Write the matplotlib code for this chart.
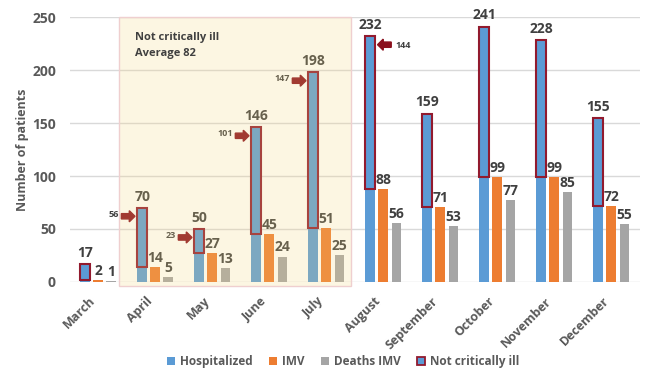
import matplotlib.pyplot as plt
import numpy as np
from matplotlib.patches import Rectangle, Patch

plt.rcParams["font.family"] = ["Open Sans", "DejaVu Sans"]

months = ["March", "April", "May", "June", "July",
          "August", "September", "October", "November", "December"]
hospitalized = [17, 70, 50, 146, 198, 232, 159, 241, 228, 155]
imv = [2, 14, 27, 45, 51, 88, 71, 99, 99, 72]
deaths_imv = [1, 5, 13, 24, 25, 56, 53, 77, 85, 55]
# months with an arrow pointing at the "not critically ill" box
arrow_right = [1, 2, 3, 4]
arrow_left = [5]
shaded_months = [1, 2, 3, 4]

BLUE = "#5B9BD5"
ORANGE = "#ED7D31"
GRAY = "#A5A5A5"
RED_EDGE = "#921A2E"
ARROW = "#8A0F1C"
TXT = "#404040"

x = np.arange(len(months))
not_crit = np.array(hospitalized) - np.array(imv)
avg_not_crit = np.mean(not_crit[shaded_months])

fig = plt.figure(figsize=(6.47, 3.81), dpi=100)
ax = fig.add_axes([0.108, 0.26, 0.881, 0.695])

w = 0.175
off = 0.23
ax.bar(x - off, hospitalized, w, color=BLUE, zorder=2)
ax.bar(x - off, not_crit, w, bottom=imv, color=BLUE, edgecolor=RED_EDGE,
       linewidth=1.5, zorder=3)
ax.bar(x, imv, w, color=ORANGE, zorder=2)
ax.bar(x + off, deaths_imv, w, color=GRAY, zorder=2)

lab = dict(ha="center", va="bottom", fontsize=10, fontweight="bold", color=TXT)
for i in x:
    ax.text(i - off, hospitalized[i] + 4, str(hospitalized[i]), **lab)
    ax.text(i, imv[i] + 2, str(imv[i]), **lab)
    ax.text(i + off, deaths_imv[i] + 2, str(deaths_imv[i]), **lab)

# red block arrows next to the box
for i in arrow_right:
    tip = i - off - w / 2 - 0.04
    y = hospitalized[i] - 8
    ax.arrow(tip - 0.24, y, 0.24, 0, width=5, head_width=10.5, head_length=0.1,
             length_includes_head=True, color=ARROW, zorder=4)
    ax.text(tip - 0.29, y + 2, str(not_crit[i]), ha="right", va="center",
            fontsize=6.5, fontweight="bold", color=TXT)
for i in arrow_left:
    tip = i - off + w / 2 + 0.04
    y = hospitalized[i] - 8
    ax.arrow(tip + 0.24, y, -0.24, 0, width=5, head_width=10.5, head_length=0.1,
             length_includes_head=True, color=ARROW, zorder=4)
    ax.text(tip + 0.32, y - 1, str(not_crit[i]), ha="left", va="center",
            fontsize=6.5, fontweight="bold", color=TXT)

# shaded period
x0 = shaded_months[0] - 0.64
x1 = shaded_months[-1] + 0.43
ax.add_patch(Rectangle((x0, -4), x1 - x0, 254, facecolor="#F5D77E", alpha=0.22,
                       edgecolor="none", zorder=5, clip_on=False))
ax.add_patch(Rectangle((x0, -4), x1 - x0, 254, facecolor="none",
                       edgecolor="#EFCFCF", linewidth=1, zorder=5, clip_on=False))
ax.text(x0 + 0.28, 236, "Not critically ill\nAverage %d" % round(avg_not_crit),
        ha="left", va="top", fontsize=8, fontweight="bold", color=TXT,
        linespacing=1.6, zorder=6)

ax.set_xlim(-0.5, len(months) - 0.5)
ax.set_ylim(0, 250)
ax.set_yticks(range(0, 251, 50))
ax.yaxis.grid(True, color="#D9D9D9", linewidth=1, zorder=0)
ax.set_axisbelow(True)
for s in ax.spines.values():
    s.set_visible(False)
ax.tick_params(length=0, colors="#595959")
ax.set_xticks(x)
ax.set_xticklabels(months, rotation=45, ha="right", fontsize=9,
                   fontweight="bold", color="#595959")
for t in ax.get_yticklabels():
    t.set_fontsize(10)
    t.set_fontweight("bold")
ax.tick_params(axis="x", pad=9)
ax.tick_params(axis="y", pad=10)
ax.set_ylabel("Number of patients", fontsize=9, fontweight="bold", color="#595959")
ax.yaxis.set_label_coords(-0.072, 0.5)

handles = [Patch(facecolor=BLUE), Patch(facecolor=ORANGE), Patch(facecolor=GRAY),
           Patch(facecolor=BLUE, edgecolor=RED_EDGE, linewidth=1.3)]
fig.legend(handles, ["Hospitalized", "IMV", "Deaths IMV", "Not critically ill"],
           loc="center", bbox_to_anchor=(0.53, 0.05), ncol=4, frameon=False,
           prop=dict(size=8.5, weight="bold"), labelcolor="#595959",
           handlelength=0.7, handleheight=0.7, handletextpad=0.4, columnspacing=1.4)

fig.savefig("out.png", dpi=100)
